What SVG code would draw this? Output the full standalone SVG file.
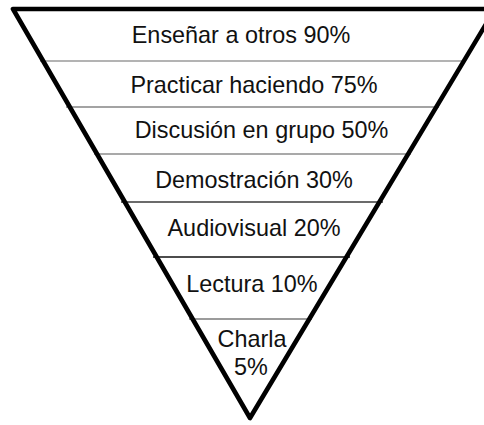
<svg xmlns="http://www.w3.org/2000/svg" width="484" height="425" viewBox="0 0 484 425">
<style>
.lbl{font-family:"Liberation Sans",Arial,sans-serif;font-size:23.4px;fill:#111;text-anchor:middle}
.sep{stroke-width:1.6}
</style>
<rect width="484" height="425" fill="#fff"/>
<g id="connectors">
<line class="sep" x1="40" y1="61" x2="466" y2="61" stroke="#9a9a9a"/>
<line class="sep" x1="66" y1="107" x2="439" y2="107" stroke="#858585"/>
<line class="sep" x1="94" y1="154" x2="411" y2="154" stroke="#8c8c8c"/>
<line class="sep" x1="121" y1="202" x2="383" y2="202" stroke="#3a3a3a" stroke-width="1.2"/>
<line class="sep" x1="153" y1="257" x2="350" y2="257" stroke="#111" stroke-width="1.2"/>
<line class="sep" x1="189" y1="319" x2="312" y2="319" stroke="#7a7a7a" stroke-width="2.2"/>
</g>
<g id="funnel">
<polygon points="13,9 495,9 250,418" fill="none" stroke="#000" stroke-width="4.6" stroke-linejoin="round"/>
</g>
<g id="level1"><text class="lbl" x="241" y="43">Enseñar a otros 90%</text></g>
<g id="level2"><text class="lbl" x="254" y="92.7">Practicar haciendo 75%</text></g>
<g id="level3"><text class="lbl" x="261.5" y="138.3">Discusión en grupo 50%</text></g>
<g id="level4"><text class="lbl" x="254" y="188">Demostración 30%</text></g>
<g id="level5"><text class="lbl" x="254" y="235.7">Audiovisual 20%</text></g>
<g id="level6"><text class="lbl" x="252" y="291.7">Lectura 10%</text></g>
<g id="level7"><text class="lbl" x="252" y="346.7">Charla</text><text class="lbl" x="251" y="375">5%</text></g>
</svg>
